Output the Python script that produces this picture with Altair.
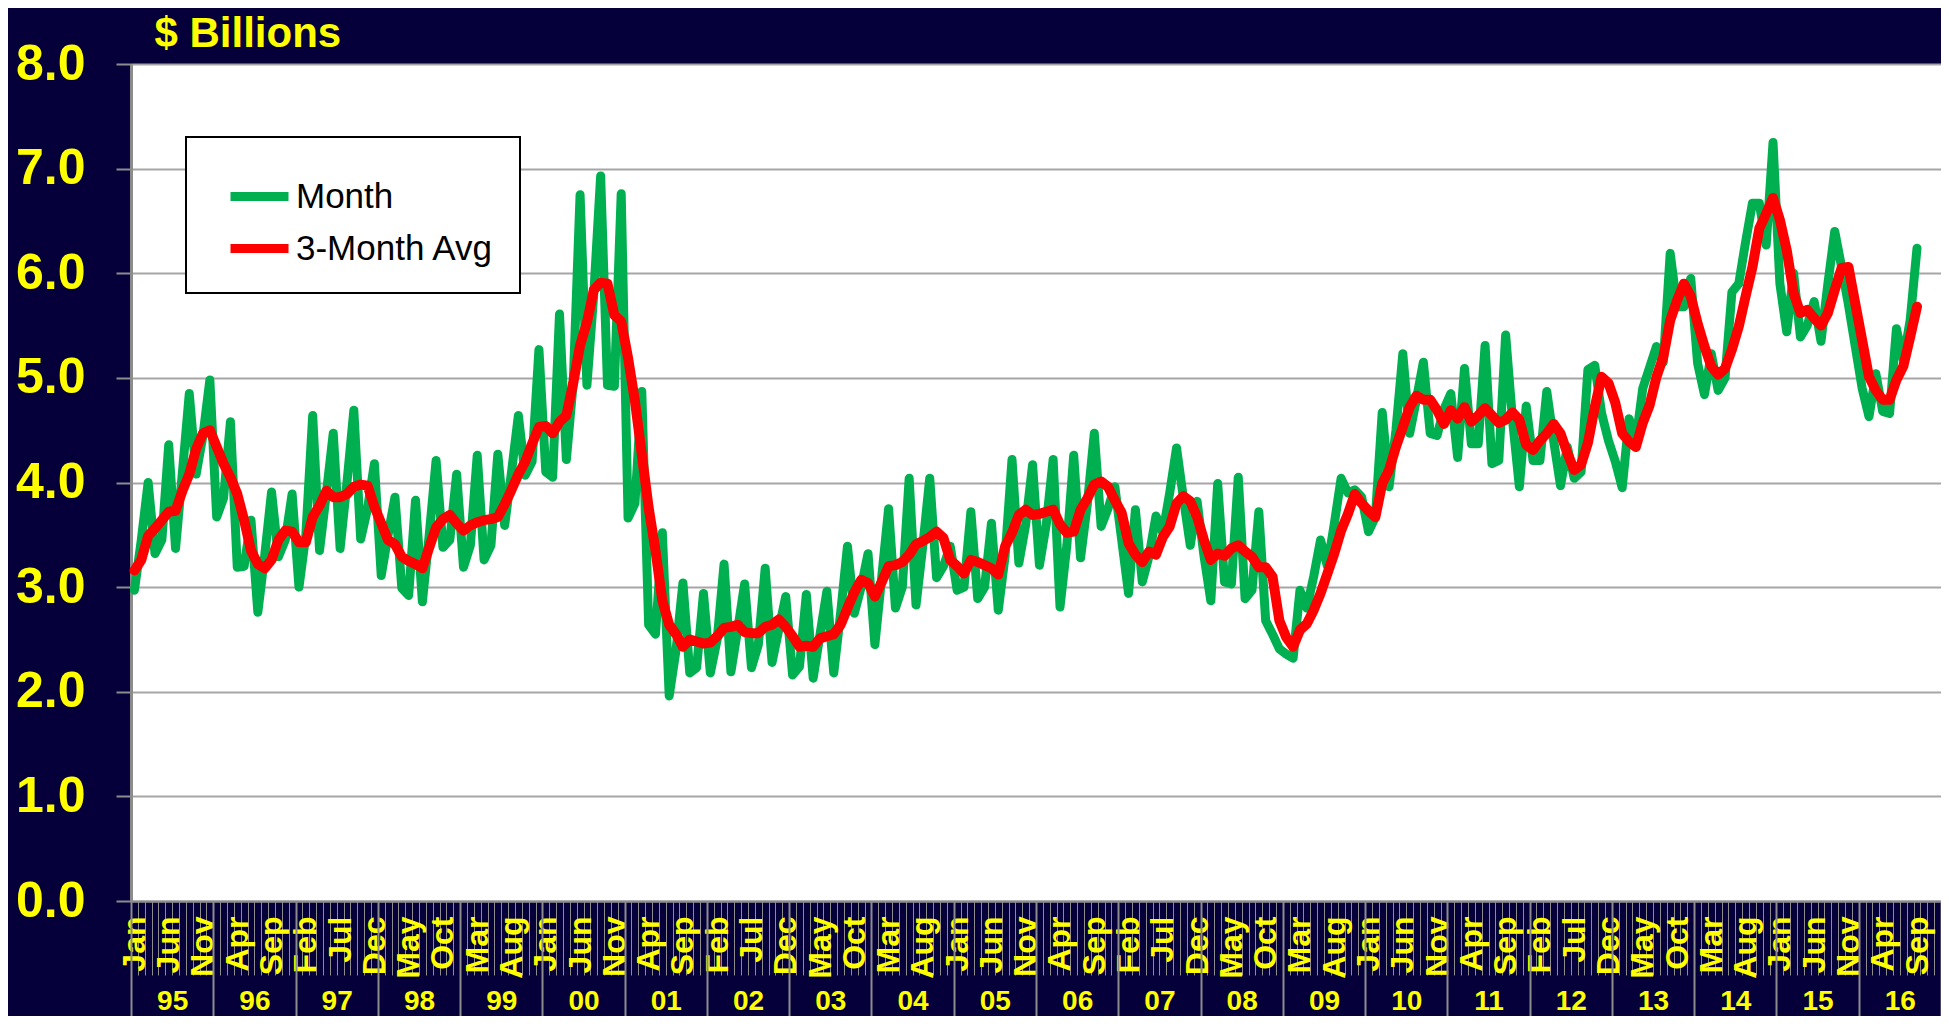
import json
import altair as alt
import pandas as pd

# ---------------- data ----------------
MONTH_NAMES = ["Jan", "Feb", "Mar", "Apr", "May", "Jun",
               "Jul", "Aug", "Sep", "Oct", "Nov", "Dec"]
YEAR_LABELS = ["95", "96", "97", "98", "99", "00", "01", "02", "03", "04", "05",
               "06", "07", "08", "09", "10", "11", "12", "13", "14", "15", "16"]
SERIES_NAMES = ["Month", "3-Month Avg"]
UNIT_TITLE = "$ Billions"

# monthly values, Jan 1995 .. Sep 2016 ($ billions)
MONTHLY = [
    2.97, 3.45, 4.00, 3.32, 3.45, 4.36, 3.37, 4.10, 4.85, 4.08, 4.45, 4.98,   # 1995
    3.67, 3.85, 4.58, 3.19, 3.20, 3.64, 2.76, 3.30, 3.91, 3.29, 3.45, 3.89,   # 1996
    3.00, 3.50, 4.64, 3.35, 3.90, 4.47, 3.37, 4.00, 4.69, 3.46, 3.75, 4.18,   # 1997
    3.11, 3.50, 3.86, 2.99, 2.92, 3.83, 2.86, 3.50, 4.21, 3.38, 3.45, 4.08,   # 1998
    3.19, 3.40, 4.26, 3.26, 3.40, 4.27, 3.59, 4.10, 4.64, 4.07, 4.20, 5.27,   # 1999
    4.10, 4.05, 5.61, 4.22, 4.95, 6.75, 4.93, 5.80, 6.93, 4.93, 4.92, 6.76,   # 2000
    3.66, 3.80, 4.87, 2.64, 2.55, 3.52, 1.96, 2.40, 3.04, 2.18, 2.23, 2.94,   # 2001
    2.18, 2.50, 3.22, 2.19, 2.60, 3.03, 2.23, 2.45, 3.18, 2.28, 2.60, 2.91,   # 2002
    2.16, 2.24, 2.93, 2.13, 2.55, 2.96, 2.18, 2.75, 3.39, 2.75, 3.00, 3.32,   # 2003
    2.45, 3.10, 3.75, 2.80, 3.00, 4.04, 2.83, 3.40, 4.04, 3.09, 3.20, 3.39,   # 2004
    2.97, 3.00, 3.72, 2.89, 3.00, 3.61, 2.78, 3.30, 4.22, 3.23, 3.60, 4.17,   # 2005
    3.21, 3.60, 4.22, 2.81, 3.40, 4.26, 3.28, 3.80, 4.47, 3.58, 3.75, 3.96,   # 2006
    3.45, 2.94, 3.74, 3.05, 3.30, 3.68, 3.52, 3.90, 4.33, 3.85, 3.40, 3.82,   # 2007
    3.30, 2.87, 3.99, 3.05, 3.03, 4.05, 2.89, 2.97, 3.72, 2.68, 2.55, 2.41,   # 2008
    2.36, 2.32, 2.97, 2.80, 3.10, 3.45, 3.20, 3.60, 4.04, 3.90, 3.93, 3.86,   # 2009
    3.53, 3.67, 4.67, 3.96, 4.50, 5.23, 4.47, 4.80, 5.15, 4.47, 4.45, 4.70,   # 2010
    4.85, 4.24, 5.09, 4.37, 4.37, 5.31, 4.18, 4.21, 5.41, 4.60, 3.96, 4.73,   # 2011
    4.21, 4.21, 4.87, 4.40, 3.97, 4.34, 4.04, 4.10, 5.08, 5.12, 4.66, 4.40,   # 2012
    4.20, 3.95, 4.61, 4.40, 4.90, 5.10, 5.30, 5.15, 6.19, 5.68, 5.68, 5.95,   # 2013
    5.14, 4.84, 5.23, 4.88, 5.00, 5.82, 5.90, 6.30, 6.67, 6.67, 6.27, 7.25,   # 2014
    5.90, 5.44, 6.00, 5.39, 5.50, 5.73, 5.35, 5.90, 6.40, 6.06, 5.70, 5.30,   # 2015
    4.90, 4.63, 5.04, 4.68, 4.66, 5.47, 5.17, 5.55, 6.24,                     # 2016
]

# 3-month average, Jan 1995 .. Sep 2016 ($ billions)
AVG3 = [
    3.16, 3.26, 3.49, 3.56, 3.64, 3.72, 3.73, 3.92, 4.08, 4.32, 4.47, 4.50,
    4.34, 4.18, 4.05, 3.89, 3.64, 3.35, 3.22, 3.18, 3.26, 3.45, 3.54, 3.53,
    3.43, 3.43, 3.67, 3.78, 3.92, 3.86, 3.86, 3.89, 3.96, 3.98, 3.97, 3.77,
    3.61, 3.45, 3.41, 3.29, 3.25, 3.22, 3.18, 3.38, 3.57, 3.65, 3.69, 3.61,
    3.54, 3.59, 3.62, 3.64, 3.65, 3.67, 3.79, 3.93, 4.08, 4.20, 4.37, 4.53,
    4.54, 4.47, 4.58, 4.64, 4.95, 5.31, 5.53, 5.84, 5.91, 5.90, 5.60, 5.54,
    5.19, 4.78, 4.27, 3.76, 3.35, 2.87, 2.64, 2.55, 2.43, 2.50, 2.48, 2.46,
    2.47, 2.53, 2.61, 2.62, 2.64, 2.57, 2.56, 2.56, 2.62, 2.64, 2.69, 2.62,
    2.53, 2.43, 2.44, 2.43, 2.51, 2.53, 2.55, 2.64, 2.80, 2.95, 3.07, 3.04,
    2.91, 3.05, 3.20, 3.21, 3.24, 3.31, 3.41, 3.44, 3.48, 3.53, 3.47, 3.26,
    3.20, 3.13, 3.26, 3.24, 3.21, 3.18, 3.12, 3.39, 3.52, 3.69, 3.74, 3.69,
    3.70, 3.72, 3.74, 3.60, 3.52, 3.53, 3.74, 3.85, 3.98, 4.01, 3.96, 3.83,
    3.71, 3.42, 3.31, 3.24, 3.34, 3.31, 3.48, 3.58, 3.80, 3.87, 3.82, 3.67,
    3.45, 3.26, 3.32, 3.30, 3.37, 3.40, 3.34, 3.29, 3.19, 3.19, 3.10, 2.68,
    2.52, 2.43, 2.59, 2.65, 2.78, 2.94, 3.13, 3.32, 3.54, 3.70, 3.89, 3.80,
    3.73, 3.67, 3.99, 4.12, 4.34, 4.53, 4.72, 4.83, 4.79, 4.79, 4.69, 4.56,
    4.69, 4.61, 4.72, 4.58, 4.64, 4.71, 4.64, 4.57, 4.60, 4.67, 4.60, 4.36,
    4.31, 4.40, 4.47, 4.56, 4.47, 4.28, 4.12, 4.17, 4.38, 4.72, 5.01, 4.95,
    4.76, 4.47, 4.39, 4.34, 4.57, 4.74, 5.01, 5.20, 5.55, 5.74, 5.90, 5.78,
    5.52, 5.30, 5.11, 5.03, 5.09, 5.27, 5.49, 5.78, 6.06, 6.43, 6.57, 6.72,
    6.51, 6.22, 5.81, 5.62, 5.65, 5.57, 5.50, 5.62, 5.84, 6.05, 6.06, 5.71,
    5.36, 5.01, 4.88, 4.79, 4.79, 4.98, 5.11, 5.39, 5.68,
]

N_CATEGORIES = 264          # Jan 1995 .. Dec 2016 on the category axis
LABEL_EVERY = 5             # a month label every 5 months

# ---------------- styling ----------------
NAVY = "#05003A"
YELLOW = "#FFFF00"
GREEN = "#00B050"
RED = "#FF0000"
GRAY = "#8C8C8C"
GRID = "#A6A6A6"
FONT = "Liberation Sans"

# ---------------- tables ----------------
rows = []
for i, v in enumerate(MONTHLY):
    rows.append({"pos": i + 0.5, "value": v, "series": SERIES_NAMES[0]})
for i, v in enumerate(AVG3):
    rows.append({"pos": i + 0.5, "value": v, "series": SERIES_NAMES[1]})
df = pd.DataFrame(rows)

month_label_df = pd.DataFrame({"pos": [i + 0.5 for i in range(0, len(MONTHLY), LABEL_EVERY)]})
year_label_df = pd.DataFrame({"pos": [12 * k + 6 for k in range(len(YEAR_LABELS))]})
year_tick_df = pd.DataFrame({"pos": [12 * k for k in range(len(YEAR_LABELS) + 1)]})

x_scale = alt.Scale(domain=[0, N_CATEGORIES], nice=False, zero=False)
y_scale = alt.Scale(domain=[0, 8], nice=False)
color_scale = alt.Scale(domain=SERIES_NAMES, range=[GREEN, RED])

legend = alt.Legend(
    title=None, orient="none", legendX=55, legendY=73, direction="vertical",
    fillColor="white", strokeColor="black", padding=26,
    symbolType="stroke", symbolSize=3364, symbolStrokeWidth=9, symbolOffset=14,
    labelFontSize=35, labelFont=FONT, labelColor="black", labelOffset=3,
    rowPadding=-17, labelLimit=400,
)

month_tick_axis = alt.Axis(
    values=list(range(0, N_CATEGORIES + 1)), labels=False, grid=False,
    ticks=True, tickSize=74, tickColor=GRAY, tickWidth=1,
    domain=True, domainColor=GRAY, domainWidth=2, title=None, orient="bottom",
)

y_axis = alt.Axis(
    values=list(range(0, 9)), format=".1f",
    title=UNIT_TITLE, titleAngle=0, titleAlign="left", titleBaseline="alphabetic",
    titleX=23, titleY=-18, titleFontSize=42, titleFont=FONT, titleFontWeight="bold",
    titleColor=YELLOW,
    labelFontSize=50, labelFont=FONT, labelFontWeight="bold", labelColor=YELLOW,
    labelPadding=31, tickSize=15, tickColor=GRAY, tickWidth=2,
    domainColor=GRAY, domainWidth=3, grid=True, gridColor=GRID, gridWidth=2,
)

month_expr = json.dumps(MONTH_NAMES) + "[floor(datum.value) % 12]"
month_label_axis = alt.Axis(
    values=list(month_label_df["pos"]), labelExpr=month_expr, orient="bottom",
    ticks=False, domain=False, grid=False, title=None,
    labelAngle=270, labelAlign="right", labelBaseline="middle", labelPadding=15,
    labelFontSize=32, labelFont=FONT, labelFontWeight="bold", labelColor=YELLOW,
    labelOverlap=False, labelFlush=False, labelBound=False,
)

year_expr = json.dumps(YEAR_LABELS) + "[floor(datum.value / 12)]"
year_label_axis = alt.Axis(
    values=list(year_label_df["pos"]), labelExpr=year_expr, orient="bottom",
    ticks=False, domain=False, grid=False, title=None,
    labelAngle=0, labelAlign="center", labelBaseline="middle", labelPadding=100,
    labelFontSize=28, labelFont=FONT, labelFontWeight="bold",
    labelColor=YELLOW, labelOverlap=False, labelFlush=False, labelBound=False,
)

year_tick_axis = alt.Axis(
    values=list(year_tick_df["pos"]), labels=False, orient="bottom",
    ticks=True, tickSize=130, tickColor=GRAY, tickWidth=2,
    domain=False, grid=False, title=None,
)

base = alt.Chart(df)

green = base.transform_filter(alt.datum.series == SERIES_NAMES[0]).mark_line(
    strokeWidth=9, strokeCap="round", strokeJoin="round"
).encode(
    x=alt.X("pos:Q", scale=x_scale, axis=month_tick_axis),
    y=alt.Y("value:Q", scale=y_scale, axis=y_axis),
    color=alt.Color("series:N", scale=color_scale, legend=legend),
)

red = base.transform_filter(alt.datum.series == SERIES_NAMES[1]).mark_line(
    strokeWidth=10, strokeCap="round", strokeJoin="round"
).encode(
    x=alt.X("pos:Q", scale=x_scale, axis=None),
    y=alt.Y("value:Q", scale=y_scale, axis=y_axis),
    color=alt.Color("series:N", scale=color_scale, legend=legend),
)

month_labels = alt.Chart(month_label_df).mark_point(opacity=0).encode(
    x=alt.X("pos:Q", scale=x_scale, axis=month_label_axis)
)
year_labels = alt.Chart(year_label_df).mark_point(opacity=0).encode(
    x=alt.X("pos:Q", scale=x_scale, axis=year_label_axis)
)
year_ticks = alt.Chart(year_tick_df).mark_point(opacity=0).encode(
    x=alt.X("pos:Q", scale=x_scale, axis=year_tick_axis)
)

chart = alt.layer(green, red, month_labels, year_labels, year_ticks).resolve_axis(
    x="independent"
).properties(
    width=1810,
    height=837,
    autosize=alt.AutoSizeParams(type="none"),
    padding={"left": 123, "top": 56, "right": 0, "bottom": 115},
    background=NAVY,
).configure_view(
    fill="white", stroke=None
).configure_legend(
    strokeWidth=2, cornerRadius=0
)

chart.save("out.html", embed_options={"renderer": "svg", "actions": False})
